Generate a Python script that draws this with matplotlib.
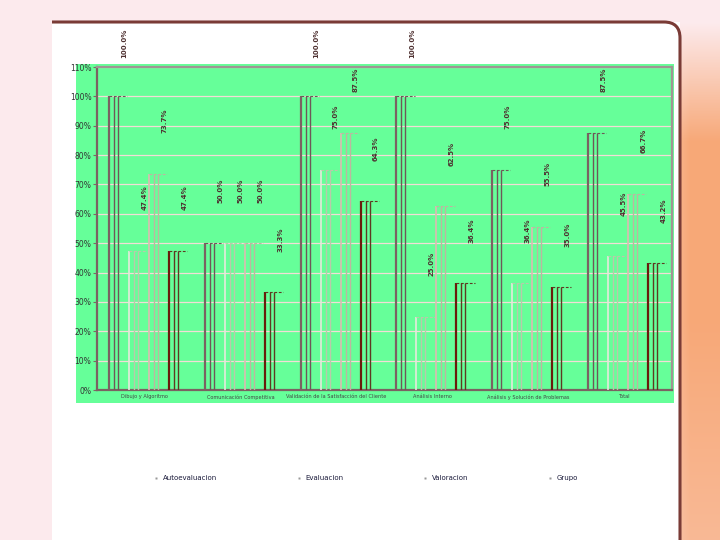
import numpy as np
import matplotlib
matplotlib.use("Agg")
import matplotlib.pyplot as plt
from matplotlib.patches import Rectangle
from matplotlib.lines import Line2D
from matplotlib.path import Path
from matplotlib.patches import PathPatch

categories = ["Dibujo y Algoritmo", "Comunicación Competitiva",
              "Validación de la Satisfacción del Cliente", "Análisis Interno",
              "Análisis y Solución de Problemas", "Total"]
series = ["Autoevaluacion", "Evaluacion", "Valoracion", "Grupo"]
autoevaluacion = [100.0, 50.0, 100.0, 100.0, 75.0, 87.5]
evaluacion = [47.4, 50.0, 75.0, 25.0, 36.4, 45.5]
valoracion = [73.7, 50.0, 87.5, 62.5, 55.5, 66.7]
grupo = [47.4, 33.3, 64.3, 36.4, 35.0, 43.2]
yticks = list(range(0, 120, 10))

W, H = 720, 540
fig = plt.figure(figsize=(7.2, 5.4), dpi=100)

# background gradient (pale pink -> orange on the right)
bg = fig.add_axes([0, 0, 1, 1])
bg.set_axis_off()
xx, yy = np.meshgrid(np.linspace(0, 1, 300), np.linspace(0, 1, 200))
wx = np.clip((xx - 0.86) / 0.10, 0, 1)
wy = np.clip((yy - 0.04) / 0.22, 0, 1) * (1 - 0.25 * np.clip((yy - 0.6) / 0.4, 0, 1))
w = np.clip(wx * wy, 0, 1)
c0 = np.array([0.99, 0.92, 0.93])
c1 = np.array([0.97, 0.66, 0.47])
img = c0[None, None, :] * (1 - w[..., None]) + c1[None, None, :] * w[..., None]
bg.imshow(img, extent=[0, 1, 0, 1], aspect="auto", origin="upper", zorder=0)
bg.set_xlim(0, 1)
bg.set_ylim(0, 1)

def fx(px):
    return px / W

def fy(py):
    return 1 - py / H

# white panel
bg.add_patch(Rectangle((fx(52), fy(540)), fx(680) - fx(52), fy(22) - fy(540),
                       facecolor="white", edgecolor="none", zorder=1))
r = 16
verts = [(fx(52), fy(22)), (fx(680 - r), fy(22)), (fx(680), fy(22)),
         (fx(680), fy(22 + r)), (fx(680), fy(540))]
codes = [Path.MOVETO, Path.LINETO, Path.CURVE3, Path.CURVE3, Path.LINETO]
bg.add_patch(PathPatch(Path(verts, codes), facecolor="none",
                       edgecolor="#7a3b36", lw=2.2, zorder=2))

# green chart area
green = "#66ff99"
bg.add_patch(Rectangle((fx(76), fy(403)), fx(674) - fx(76), fy(64) - fy(403),
                       facecolor=green, edgecolor="none", zorder=2))

ax = fig.add_axes([fx(97), fy(390), fx(672) - fx(97), fy(67) - fy(390)])
ax.set_facecolor(green)
ax.set_xlim(-0.5, 5.5)
ax.set_ylim(0, 110)

main_cols = ["#7b6262", "#e6e9dc", "#dcbab2", "#6a1c0c"]
sec_cols = ["#6e5858", "#b9c9aa", "#bdb6a0", "#5e3a22"]
lws = [1.6, 1.2, 1.2, 1.6]
data = [autoevaluacion, evaluacion, valoracion, grupo]
x = np.arange(len(categories))
for k, vals in enumerate(data):
    x0 = x - 0.376 + k * 0.209
    ax.vlines(x0, 0, vals, colors=main_cols[k], lw=lws[k], zorder=3)
    ax.vlines(x0 + 0.052, 0, vals, colors=sec_cols[k], lw=1.0, zorder=3)
    ax.vlines(x0 + 0.094, 0, vals, colors=sec_cols[k], lw=1.0, zorder=3)
    ax.hlines(vals, x0, x0 + 0.19, colors=sec_cols[k], lw=0.8,
              linestyles=(0, (2.5, 1.5)), zorder=3)
    for xi, v in zip(x0, vals):
        ax.text(xi + 0.16, v + 18, "%.1f%%" % v, rotation=90, ha="center",
                va="center", fontsize=5, fontweight="bold", color="#4e3030",
                clip_on=False, zorder=4)

ax.set_yticks(yticks)
ax.set_yticklabels(["%d%%" % t for t in yticks], fontsize=5.5, color="#333333")
ax.set_xticks(x)
ax.set_xticklabels(categories, fontsize=3.6, color="#444444")
ax.tick_params(axis="x", length=0, pad=3)
ax.tick_params(axis="y", length=3, width=0.8, color="#806666", pad=1)
ax.grid(axis="y", color="#f3ddd6", lw=0.9, zorder=1)
ax.set_axisbelow(True)
for side in ["left", "bottom"]:
    ax.spines[side].set_color("#7b6262")
    ax.spines[side].set_linewidth(1.6)
for side in ["top", "right"]:
    ax.spines[side].set_color("#a09494")
    ax.spines[side].set_linewidth(1.6)

handles = [Line2D([], [], marker="s", ls="none", markersize=1.5,
                  markerfacecolor="#999999", markeredgecolor="none") for _ in series]
leg = fig.legend(handles, series, loc="center", bbox_to_anchor=(fx(366), fy(478)),
                 ncol=4, frameon=False, fontsize=5, columnspacing=11.5,
                 handlelength=0.6, handletextpad=0.6)
for t in leg.get_texts():
    t.set_color("#1a1a3a")

fig.savefig("out.png", dpi=100)
